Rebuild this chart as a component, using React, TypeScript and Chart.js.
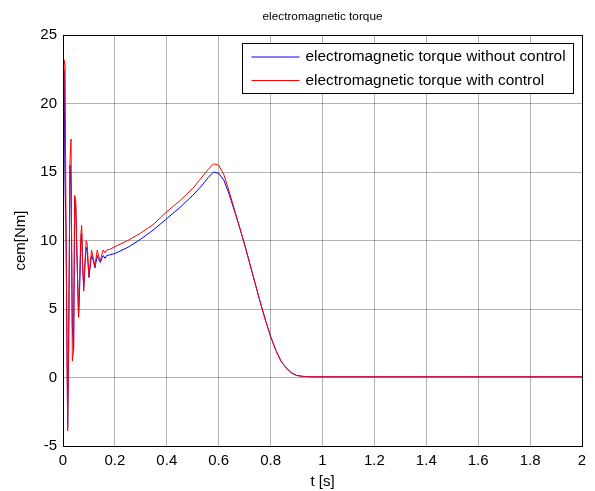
import React, { useEffect, useRef } from "react";
import { Chart, registerables } from "chart.js";

Chart.register(...registerables);

const chartTitle = "electromagnetic torque";
const xTitle = "t [s]";
const yTitle = "cem[Nm]";
const seriesNames = [
  "electromagnetic torque without control",
  "electromagnetic torque with control",
];

const time = [
  0, 0.004, 0.008, 0.012, 0.018, 0.022, 0.027, 0.031, 0.036, 0.041, 0.045, 0.049,
  0.055, 0.06, 0.065, 0.069, 0.072, 0.076, 0.08, 0.085, 0.089, 0.093, 0.1, 0.106,
  0.11, 0.116, 0.123, 0.128, 0.132, 0.138, 0.144, 0.15, 0.155, 0.162, 0.168, 0.18,
  0.2, 0.25, 0.3, 0.35, 0.4, 0.45, 0.5, 0.53, 0.56, 0.58, 0.6, 0.62, 0.64, 0.66,
  0.68, 0.7, 0.72, 0.74, 0.76, 0.78, 0.8, 0.82, 0.84, 0.86, 0.88, 0.9, 0.93, 0.96,
  1.0, 1.2, 1.4, 1.6, 1.8, 2.0,
];

const withoutControl = [
  0, 22.4, 14.7, 10, -3.6, 2.8, 15.5, 14, 3.7, 2.1, 13, 12.5,
  8, 4.4, 7, 10, 10.5, 8, 6.6, 8.3, 9.5, 9.3, 7.3, 8.3,
  8.9, 8.6, 8.0, 8.5, 8.9, 8.6, 8.4, 8.7, 8.9, 8.7, 8.9, 8.95,
  9.05, 9.5, 10.1, 10.8, 11.6, 12.4, 13.3, 13.9, 14.6, 15.0, 14.9, 14.4, 13.4, 12.2,
  11.0, 9.7, 8.3, 6.9, 5.5, 4.2, 3.0, 2.0, 1.2, 0.7, 0.35, 0.15, 0.07, 0.05,
  0.05, 0.05, 0.05, 0.05, 0.05, 0.05,
];

const withControl = [
  0, 23.2, 22.8, 10, -3.9, 3, 15.8, 17.4, 1.2, 2, 13.3, 13,
  8, 4.4, 8, 10.5, 11.1, 8, 6.3, 8.5, 10, 9.8, 7.4, 8.5,
  9.3, 8.8, 8.1, 8.8, 9.3, 8.8, 8.5, 9.0, 9.3, 9.1, 9.3, 9.35,
  9.55, 10.0, 10.55, 11.2, 12.1, 12.9, 13.8, 14.5, 15.2, 15.6, 15.5, 14.8, 13.6, 12.3,
  11.0, 9.7, 8.3, 6.9, 5.5, 4.2, 3.0, 2.0, 1.2, 0.7, 0.35, 0.15, 0.07, 0.05,
  0.05, 0.05, 0.05, 0.05, 0.05, 0.05,
];

const seriesColors = ["#0000ff", "#ff0000"];

const FONT = "'Liberation Sans', Arial, sans-serif";

const framePlugin = {
  id: "frameAndLegend",
  afterDraw(chart: any) {
    const { ctx, chartArea } = chart;
    const { left, right, top, bottom } = chartArea;
    ctx.save();
    ctx.strokeStyle = "#000";
    ctx.lineWidth = 1;
    ctx.strokeRect(Math.round(left) + 0.5, Math.round(top) + 0.5, Math.round(right - left), Math.round(bottom - top));

    // title centred over the plot area
    ctx.fillStyle = "#000";
    ctx.font = `11.8px ${FONT}`;
    ctx.textAlign = "center";
    ctx.textBaseline = "middle";
    ctx.fillText(chartTitle, (left + right) / 2, 17);

    // legend box inside the plot area, top-right
    const boxRight = right - 8.5;
    const boxLeft = left + 179.5;
    const boxTop = top + 8.5;
    const boxBottom = top + 58.5;
    ctx.fillStyle = "#fff";
    ctx.fillRect(boxLeft, boxTop, boxRight - boxLeft, boxBottom - boxTop);
    ctx.strokeStyle = "#000";
    ctx.strokeRect(boxLeft, boxTop, boxRight - boxLeft, boxBottom - boxTop);
    ctx.font = `15.4px ${FONT}`;
    ctx.textBaseline = "middle";
    ctx.textAlign = "left";
    const rows = [boxTop + 13.5, boxTop + 37];
    seriesNames.forEach((name, i) => {
      ctx.strokeStyle = seriesColors[i];
      ctx.beginPath();
      ctx.moveTo(boxLeft + 9, rows[i]);
      ctx.lineTo(boxLeft + 57, rows[i]);
      ctx.stroke();
      ctx.fillStyle = "#000";
      ctx.fillText(name, boxLeft + 63, rows[i]);
    });
    ctx.restore();
  },
};

export default function App() {
  const ref = useRef<HTMLCanvasElement | null>(null);
  useEffect(() => {
    if (!ref.current) return;
    const mk = (vals: number[]) => time.map((t, i) => ({ x: t, y: vals[i] }));
    const chart = new Chart(ref.current, {
      type: "line",
      data: {
        datasets: [
          {
            label: seriesNames[0],
            data: mk(withoutControl),
            borderColor: seriesColors[0],
            borderWidth: 1,
            pointRadius: 0,
            tension: 0,
            order: 1,
          },
          {
            label: seriesNames[1],
            data: mk(withControl),
            borderColor: seriesColors[1],
            borderWidth: 1,
            pointRadius: 0,
            tension: 0,
            order: 0,
          },
        ],
      },
      options: {
        responsive: false,
        animation: false,
        layout: { padding: { left: 0, right: 13, top: 35, bottom: 0 } },
        plugins: {
          legend: { display: false },
          tooltip: { enabled: false },
          title: { display: false },
        },
        scales: {
          x: {
            type: "linear",
            min: 0,
            max: 2,
            afterFit: (s: any) => {
              s.height = 45;
            },
            border: { display: false },
            grid: { color: "rgba(0,0,0,0.3)", drawTicks: false, lineWidth: 1 },
            ticks: {
              stepSize: 0.2,
              padding: 5.5,
              color: "#000",
              maxRotation: 0,
              font: { family: FONT, size: 15 },
              callback: (v: any) => String(Number(Number(v).toFixed(1))),
            },
            title: {
              display: true,
              text: xTitle,
              color: "#000",
              font: { family: FONT, size: 15, lineHeight: 1.2 },
              padding: { top: 0, bottom: 0 },
            },
          },
          y: {
            type: "linear",
            min: -5,
            max: 25,
            afterFit: (s: any) => {
              s.width = 63;
            },
            border: { display: false },
            grid: { color: "rgba(0,0,0,0.3)", drawTicks: false, lineWidth: 1 },
            ticks: {
              stepSize: 5,
              padding: 6,
              color: "#000",
              font: { family: FONT, size: 15 },
            },
            title: {
              display: true,
              text: yTitle,
              color: "#000",
              font: { family: FONT, size: 15, lineHeight: 1.2 },
              padding: { top: 12, bottom: 0 },
            },
          },
        },
      },
      plugins: [framePlugin],
    });
    return () => chart.destroy();
  }, []);
  return (
    <div style={{ position: "fixed", left: 0, top: 0, width: 595, height: 491, background: "#fff" }}>
      <canvas ref={ref} width={595} height={491} />
    </div>
  );
}
